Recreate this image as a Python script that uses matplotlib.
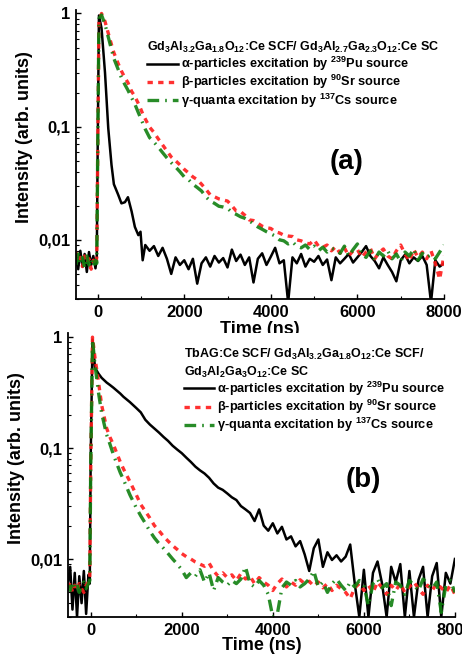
import matplotlib
matplotlib.use("Agg")
import matplotlib.pyplot as plt
from matplotlib.ticker import FixedLocator, LogLocator, NullFormatter, MultipleLocator

plt.rcParams['font.family'] = ['Liberation Sans', 'DejaVu Sans']
plt.rcParams['font.weight'] = 'bold'
plt.rcParams['mathtext.fontset'] = 'custom'
plt.rcParams['mathtext.rm'] = 'Liberation Sans:bold'
plt.rcParams['mathtext.it'] = 'Liberation Sans:bold'
plt.rcParams['mathtext.bf'] = 'Liberation Sans:bold'
plt.rcParams['mathtext.default'] = 'rm'

# ---- panel (a) data ----
t_a = ([-500, -450, -400, -350, -300, -250, -200, -150, -100, -50, -20, 0,
        30, 90, 170, 245, 320, 375, 475, 550, 630, 700, 785, 860, 940, 990,
        1040, 1100] + list(range(1200, 8001, 100)))

alpha_a = [0.0072, 0.0055, 0.0080, 0.0058, 0.0075, 0.0052, 0.0078, 0.0060, 0.0072, 0.0056, 0.0070, 0.06,
           0.96, 0.74, 0.30, 0.097, 0.046, 0.031, 0.025, 0.021, 0.0215, 0.0238, 0.0178, 0.013, 0.011, 0.0118,
           0.0066, 0.0090,
           0.0080, 0.0088, 0.0072, 0.0085, 0.0068, 0.0050, 0.0070, 0.0060, 0.0066, 0.0055,
           0.0068, 0.0041, 0.0062, 0.0070, 0.0058, 0.0072, 0.0063, 0.0069, 0.0057, 0.0082,
           0.0065, 0.0074, 0.0060, 0.0070, 0.0042, 0.0068, 0.0076, 0.0060, 0.0071, 0.0085,
           0.0062, 0.0066, 0.0028, 0.0070, 0.0062, 0.0075, 0.0058, 0.0068, 0.0064, 0.0072,
           0.0060, 0.0067, 0.0044, 0.0070, 0.0062, 0.0068, 0.0075, 0.0063, 0.0070, 0.0078,
           0.0088, 0.0072, 0.0065, 0.0056, 0.0070, 0.0060, 0.0052, 0.0043, 0.0066, 0.0074,
           0.0062, 0.0070, 0.0065, 0.0072, 0.0060, 0.0028, 0.0066, 0.0058, 0.0062]

beta_a = [0.0078, 0.0065, 0.0070, 0.0058, 0.0072, 0.0062, 0.0068, 0.0055, 0.0066, 0.0060, 0.0070, 0.05,
          0.85, 1.0, 0.85, 0.67, 0.53, 0.45, 0.36, 0.31, 0.27, 0.245, 0.205, 0.185, 0.16, 0.145,
          0.13, 0.117,
          0.099, 0.089, 0.078, 0.069, 0.061, 0.054, 0.050, 0.046, 0.042, 0.039,
          0.036, 0.034, 0.031, 0.028, 0.025, 0.024, 0.023, 0.0225, 0.022, 0.020,
          0.018, 0.0178, 0.0165, 0.0150, 0.0148, 0.0140, 0.0132, 0.0128, 0.0126, 0.0118,
          0.0115, 0.0110, 0.0108, 0.0107, 0.0100, 0.0098, 0.0094, 0.0092, 0.0100, 0.0088,
          0.0086, 0.0090, 0.0080, 0.0087, 0.0076, 0.0085, 0.0072, 0.0080, 0.0082, 0.0070,
          0.0078, 0.0084, 0.0068, 0.0077, 0.0083, 0.0072, 0.0068, 0.0080, 0.0090, 0.0075,
          0.0065, 0.0082, 0.0070, 0.0078, 0.0068, 0.0080, 0.0062, 0.0045, 0.0073]

gamma_a = [0.0060, 0.0075, 0.0062, 0.0070, 0.0056, 0.0072, 0.0060, 0.0068, 0.0058, 0.0066, 0.0062, 0.05,
           0.90, 0.97, 0.80, 0.62, 0.48, 0.40, 0.32, 0.27, 0.235, 0.21, 0.18, 0.158, 0.133, 0.12,
           0.108, 0.095,
           0.080, 0.073, 0.066, 0.059, 0.053, 0.048, 0.044, 0.040, 0.036, 0.034,
           0.031, 0.029, 0.027, 0.024, 0.022, 0.021, 0.0198, 0.0195, 0.019, 0.0175,
           0.0168, 0.0160, 0.0155, 0.0148, 0.0138, 0.0130, 0.0124, 0.0118, 0.0113, 0.0108,
           0.0100, 0.0098, 0.0092, 0.0096, 0.0088, 0.0085, 0.0090, 0.0082, 0.0088, 0.0080,
           0.0086, 0.0078, 0.0084, 0.0082, 0.0076, 0.0088, 0.0072, 0.0082, 0.0092, 0.0074,
           0.0070, 0.0080, 0.0066, 0.0078, 0.0072, 0.0080, 0.0068, 0.0075, 0.0064, 0.0078,
           0.0072, 0.0083, 0.0066, 0.0076, 0.0070, 0.0074, 0.0068, 0.0078, 0.0090]

# ---- panel (b) data ----
t_b = ([-500, -450, -400, -350, -300, -250, -200, -150, -100, -50, -20, 0,
        40, 95, 170, 240, 350, 425, 500, 650, 720, 860, 1000, 1100]
       + list(range(1200, 8001, 100)))

alpha_b = [0.0060, 0.0085, 0.0035, 0.0075, 0.0030, 0.0070, 0.0040, 0.0078, 0.0032, 0.0072, 0.0060, 0.08,
           0.95, 0.53, 0.47, 0.43, 0.39, 0.37, 0.35, 0.31, 0.29, 0.26, 0.23, 0.21,
           0.180, 0.163, 0.150, 0.138, 0.126, 0.116, 0.105, 0.097, 0.090, 0.082,
           0.075, 0.068, 0.063, 0.059, 0.054, 0.048, 0.044, 0.042, 0.039, 0.036,
           0.034, 0.030, 0.028, 0.026, 0.022, 0.028, 0.020, 0.018, 0.021, 0.017,
           0.0195, 0.015, 0.016, 0.013, 0.0145, 0.011, 0.0078, 0.0125, 0.0150, 0.0085,
           0.0115, 0.0098, 0.0108, 0.0095, 0.0105, 0.0135, 0.0060, 0.0030, 0.0080, 0.0030,
           0.0075, 0.0095, 0.0060, 0.0030, 0.0085, 0.0062, 0.0090, 0.0030, 0.0078, 0.0030,
           0.0065, 0.0085, 0.0030, 0.0070, 0.0092, 0.0030, 0.0075, 0.0060, 0.0100]

beta_b = [0.0055, 0.0062, 0.0050, 0.0058, 0.0052, 0.0060, 0.0054, 0.0050, 0.0058, 0.0062, 0.0070, 0.06,
          1.0, 0.65, 0.40, 0.245, 0.151, 0.125, 0.107, 0.075, 0.065, 0.050, 0.038, 0.031,
          0.027, 0.0234, 0.020, 0.018, 0.016, 0.0145, 0.0132, 0.0122, 0.0112, 0.0105,
          0.0100, 0.0094, 0.0090, 0.0086, 0.0092, 0.0078, 0.0070, 0.0075, 0.0068, 0.0072,
          0.0064, 0.0074, 0.0066, 0.0070, 0.0060, 0.0068, 0.0062, 0.0058, 0.0052, 0.0060,
          0.0066, 0.0056, 0.0062, 0.0058, 0.0065, 0.0060, 0.0063, 0.0057, 0.0062, 0.0055,
          0.0060, 0.0052, 0.0058, 0.0054, 0.0050, 0.0044, 0.0055, 0.0060, 0.0052, 0.0058,
          0.0050, 0.0062, 0.0055, 0.0048, 0.0058, 0.0052, 0.0060, 0.0050, 0.0056, 0.0062,
          0.0054, 0.0048, 0.0058, 0.0052, 0.0060, 0.0055, 0.0050, 0.0058, 0.0048]

gamma_b = [0.0058, 0.0052, 0.0062, 0.0056, 0.0060, 0.0050, 0.0058, 0.0062, 0.0054, 0.0060, 0.0064, 0.06,
           0.95, 0.56, 0.32, 0.207, 0.132, 0.108, 0.087, 0.060, 0.052, 0.038, 0.029, 0.0245,
           0.021, 0.0178, 0.0155, 0.0138, 0.0125, 0.0112, 0.0100, 0.0090, 0.0080, 0.0068,
           0.0075, 0.0070, 0.0080, 0.0062, 0.0075, 0.0052, 0.0068, 0.0062, 0.0058, 0.0064,
           0.0060, 0.0066, 0.0085, 0.0060, 0.0056, 0.0064, 0.0058, 0.0048, 0.0030, 0.0032,
           0.0055, 0.0062, 0.0058, 0.0064, 0.0056, 0.0060, 0.0066, 0.0078, 0.0056, 0.0062,
           0.0050, 0.0060, 0.0066, 0.0058, 0.0052, 0.0062, 0.0056, 0.0064, 0.0058, 0.0038,
           0.0060, 0.0066, 0.0055, 0.0060, 0.0038, 0.0062, 0.0058, 0.0048, 0.0064, 0.0058,
           0.0052, 0.0066, 0.0060, 0.0054, 0.0062, 0.0033, 0.0058, 0.0064, 0.0050]

labels = [r'α-particles excitation by $^{239}$Pu source',
          r'β-particles excitation by $^{90}$Sr source',
          r'γ-quanta excitation by $^{137}$Cs source']
title_a = r'Gd$_3$Al$_{3.2}$Ga$_{1.8}$O$_{12}$:Ce SCF/ Gd$_3$Al$_{2.7}$Ga$_{2.3}$O$_{12}$:Ce SC'
title_b = ('TbAG:Ce SCF/ Gd$_3$Al$_{3.2}$Ga$_{1.8}$O$_{12}$:Ce SCF/\n'
           'Gd$_3$Al$_2$Ga$_3$O$_{12}$:Ce SC')


def draw_panel(ax, t, a, b, g, title, tag, ymax, leg_xy, tag_xy, ylab_xy, xlab_y):
    ax.plot(t, a, color='black', lw=1.8, label=labels[0])
    ax.plot(t, b, color='#ff1a1a', lw=2.4, ls=(0, (1.6, 1.6)), alpha=0.9, label=labels[1])
    ax.plot(t, g, color='#108010', lw=2.4, ls=(0, (3.5, 1.8, 0.5, 1.8)), alpha=0.9, label=labels[2])
    ax.set_yscale('log')
    ax.set_xlim(-500, 8000)
    ax.set_ylim(0.003, ymax)
    ax.yaxis.set_major_locator(FixedLocator([0.01, 0.1, 1]))
    ax.set_yticklabels(['0,01', '0,1', '1'])
    ax.yaxis.set_minor_locator(LogLocator(base=10, subs=range(2, 10)))
    ax.yaxis.set_minor_formatter(NullFormatter())
    ax.xaxis.set_major_locator(FixedLocator([0, 2000, 4000, 6000, 8000]))
    ax.xaxis.set_minor_locator(MultipleLocator(1000))
    ax.tick_params(which='major', direction='in', length=3.5, width=1, labelsize=12, pad=4)
    ax.tick_params(which='minor', direction='in', length=2, width=0.8)
    for s in ['top', 'right']:
        ax.spines[s].set_visible(False)
    for s in ['left', 'bottom']:
        ax.spines[s].set_linewidth(1.3)
    ax.set_xlabel('Time (ns)', fontsize=13, fontweight='bold')
    ax.set_ylabel('Intensity (arb. units)', fontsize=13, fontweight='bold')
    ax.xaxis.set_label_coords(0.5, xlab_y)
    ax.yaxis.set_label_coords(*ylab_xy)
    ax.legend(loc='upper left', bbox_to_anchor=leg_xy, frameon=False, fontsize=9.2,
              title=title, title_fontsize=9, alignment='left', borderpad=0,
              handlelength=2.4, handletextpad=0.25, labelspacing=0.0, borderaxespad=0)
    ax.text(tag_xy[0], tag_xy[1], tag, transform=ax.transAxes, fontsize=20,
            fontweight='bold', ha='center', va='center')


fig = plt.figure(figsize=(4.62, 6.55), dpi=100)
ax1 = fig.add_axes([0.1645, 0.5435, 0.7965, 0.441])
ax2 = fig.add_axes([0.147, 0.058, 0.8377, 0.4336])

draw_panel(ax1, t_a, alpha_a, beta_a, gamma_a, title_a, '(a)', 1.07,
           (0.193, 0.897), (0.734, 0.474), (-0.117, 0.56), -0.075)
draw_panel(ax2, t_b, alpha_b, beta_b, gamma_b, title_b, '(b)', 1.09,
           (0.299, 0.95), (0.764, 0.482), (-0.112, 0.558), -0.07)

fig.savefig('out.png', dpi=100)
